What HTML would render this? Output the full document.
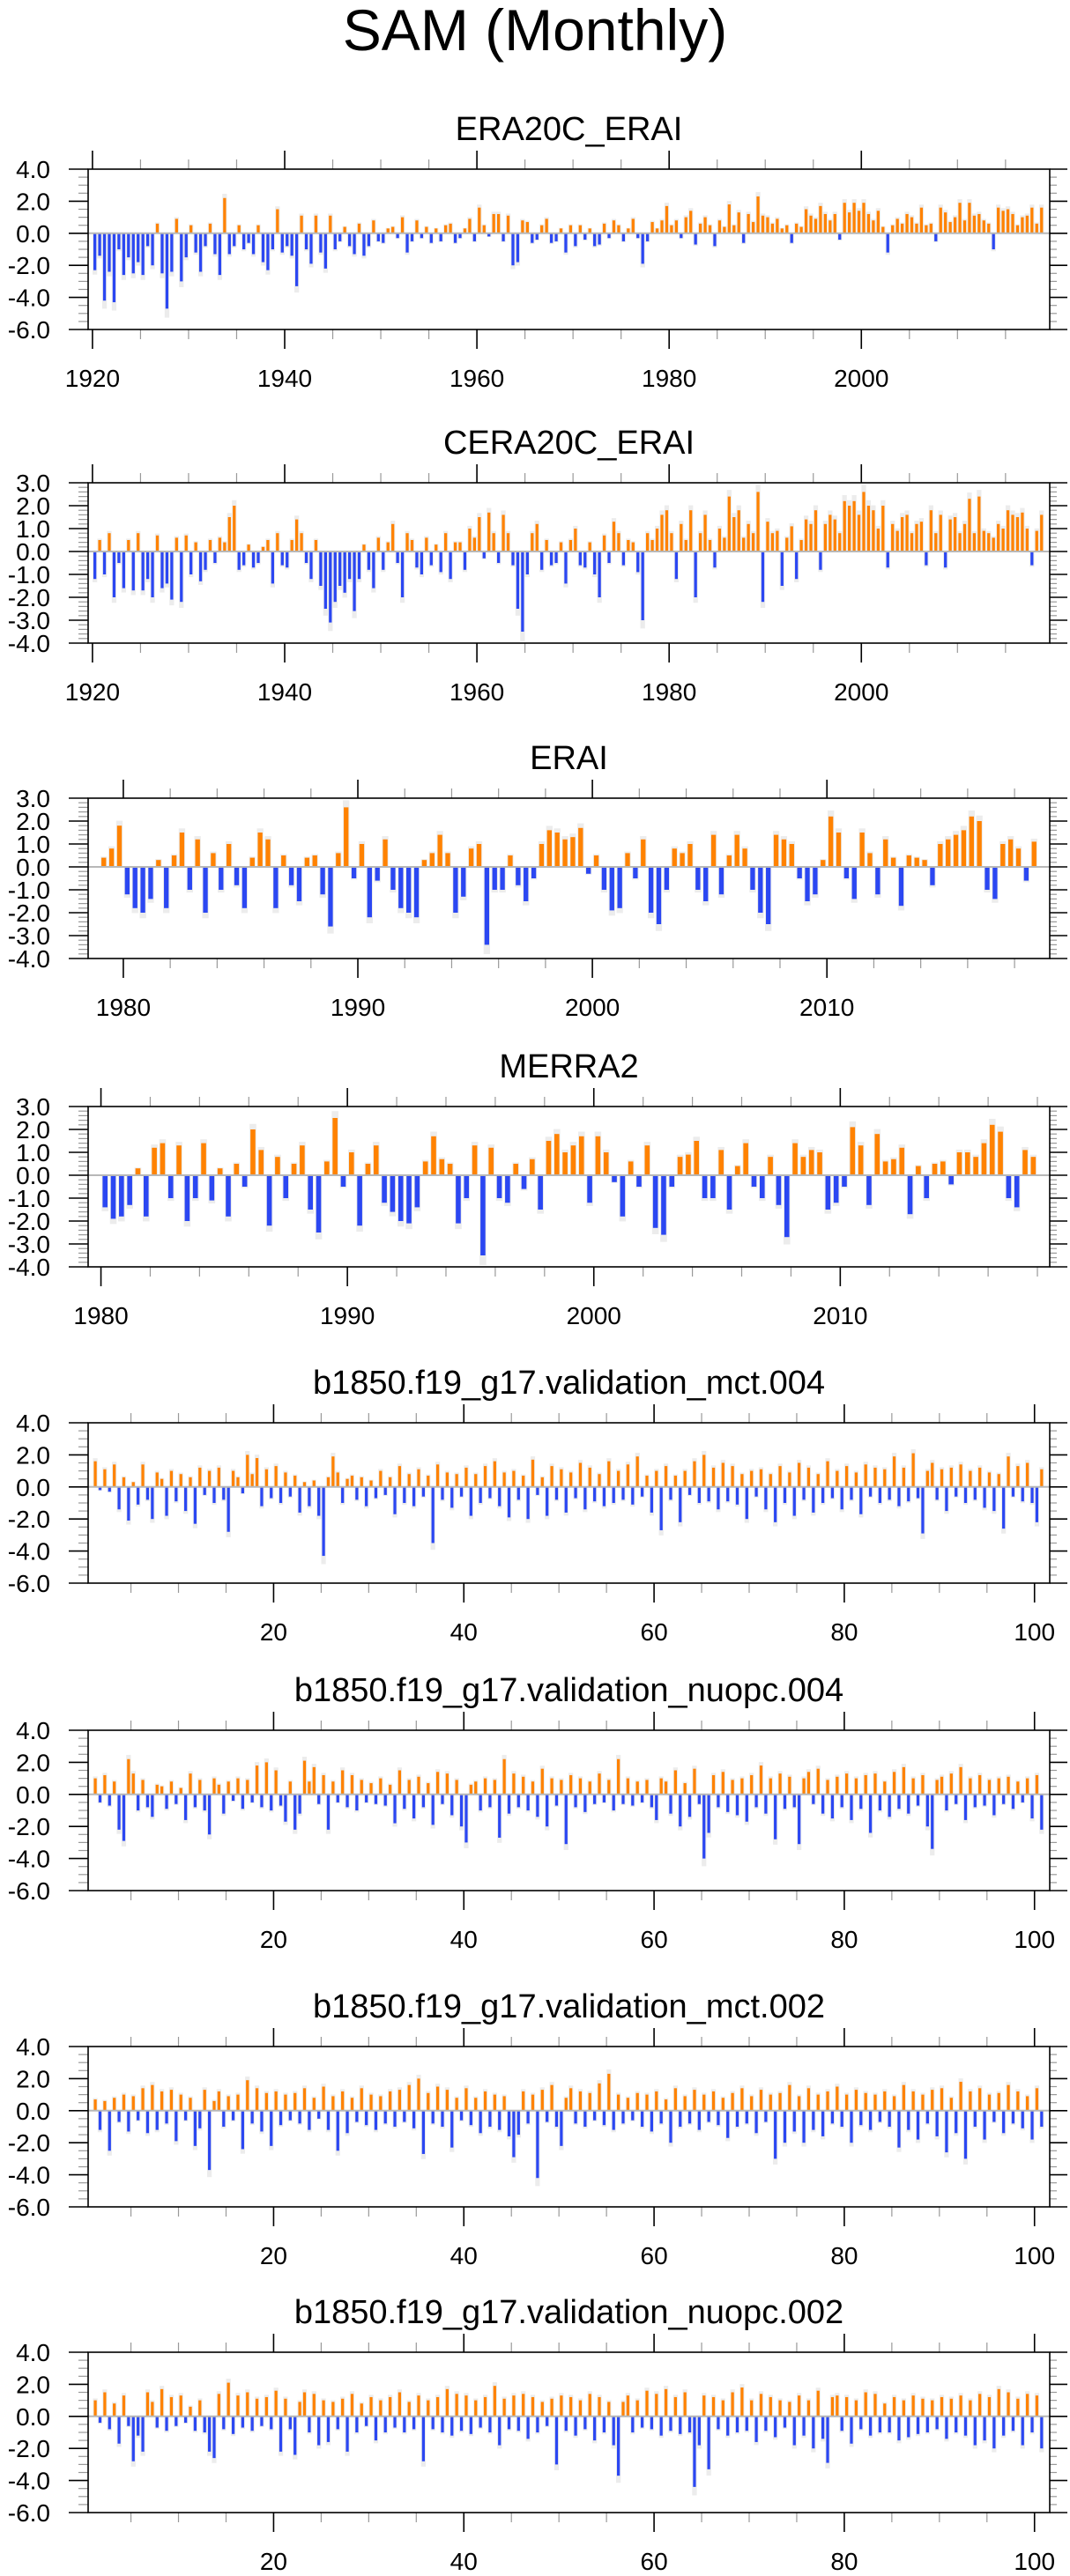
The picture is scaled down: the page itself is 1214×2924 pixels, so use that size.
<!DOCTYPE html>
<html><head><meta charset="utf-8"><style>
html,body{margin:0;padding:0;background:#fff;}
svg{display:block;font-family:"Liberation Sans",sans-serif;}
</style></head><body>
<svg id="chart" width="1214" height="2924" viewBox="0 0 1214 2924" xmlns="http://www.w3.org/2000/svg">
<rect x="0" y="0" width="1214" height="2924" fill="#fff"/>
<text x="607" y="57" font-size="66" text-anchor="middle" fill="#000">SAM (Monthly)</text>
</svg>
<script>
// ---- data arrays ----
const titles = ["ERA20C_ERAI","CERA20C_ERAI","ERAI","MERRA2","b1850.f19_g17.validation_mct.004","b1850.f19_g17.validation_nuopc.004","b1850.f19_g17.validation_mct.002","b1850.f19_g17.validation_nuopc.002"];
const dataStart = [1920,1920,1979,1980,1,1,1,1];
const dataStep = [0.5,0.5,1/3,1/3,0.5,0.5,0.5,0.5];
const xMinVals = [1919.55,1919.55,1978.5,1979.48,0.5,0.5,0.5,0.5];
const xMaxVals = [2019.6,2019.6,2019.5,2018.5,101.6,101.6,101.6,101.6];
const yMinVals = [-6,-4,-4,-4,-6,-6,-6,-6];
const yMaxVals = [4,3,3,3,4,4,4,4];
const yMajorStep = [2,1,1,1,2,2,2,2];
const yMinorStep = [0.5,0.2,0.2,0.2,0.5,0.5,0.5,0.5];
const xMajorStep = [20,20,10,10,20,20,20,20];
const xMinorStep = [5,5,2,2,5,5,5,5];
const xTickLabels = [
 ["1920","1940","1960","1980","2000"],
 ["1920","1940","1960","1980","2000"],
 ["1980","1990","2000","2010"],
 ["1980","1990","2000","2010"],
 ["20","40","60","80","100"],["20","40","60","80","100"],["20","40","60","80","100"],["20","40","60","80","100"]];

const era20c = [-2.3,-1.4,-4.2,-2.4,-4.3,-1.0,-2.6,-1.5,-2.5,-1.8,-2.6,-0.8,-2.0,0.6,-2.5,-4.7,-2.4,0.9,-3.0,-1.5,
0.5,-1.2,-2.4,-0.8,0.6,-1.3,-2.6,2.2,-1.3,-0.8,0.5,-1.0,-0.6,-1.3,0.5,-1.8,-2.3,-1.0,1.5,-1.2,
-0.8,-1.4,-3.3,1.1,-1.0,-1.9,1.1,-1.2,-2.2,1.1,-1.0,-0.5,0.4,-0.8,-1.3,0.6,-1.4,-0.8,0.8,-0.5,
-0.6,0.3,0.4,-0.3,1.0,-1.2,-0.5,0.8,-0.3,0.4,-0.6,0.3,-0.5,0.5,0.6,-0.6,-0.3,0.3,0.9,-0.5,
1.6,0.5,-0.2,1.2,1.2,-0.5,1.1,-2.0,-1.8,0.8,0.7,-0.6,-0.4,0.5,0.9,-0.6,-0.5,0.3,-1.2,0.5,
-0.8,0.5,-0.4,0.3,-0.8,-0.7,0.6,-0.3,0.8,0.5,-0.5,0.3,0.9,-0.3,-1.9,-0.5,0.7,0.3,0.8,1.7,
0.5,0.8,-0.3,1.0,1.4,-0.7,0.6,1.0,0.5,-0.8,0.8,0.4,1.8,0.5,1.3,-0.6,1.2,0.7,2.3,1.1,
1.0,0.6,0.9,0.3,0.5,-0.6,0.6,0.4,1.5,1.1,0.9,1.7,1.2,0.8,1.2,-0.4,1.9,1.3,1.9,1.4,
1.9,1.2,0.8,1.4,0.4,-1.2,0.5,0.9,0.6,1.2,1.0,0.6,1.6,0.5,0.6,-0.5,1.6,1.3,0.7,1.0,
1.9,0.8,1.9,1.1,1.2,0.8,0.6,-1.0,1.6,1.4,1.5,1.2,0.5,1.0,1.1,1.6,0.6,1.6];
const cera20c = [-1.2,0.5,-1.0,0.8,-2.0,-0.5,-1.6,0.5,-1.7,0.8,-1.7,-1.2,-2.0,0.7,-1.6,-1.4,-2.1,0.6,-2.2,0.7,
-1.0,0.4,-1.3,-0.8,0.5,-0.5,0.6,0.4,1.5,2.0,-0.8,-0.6,0.3,-0.7,-0.5,0.2,0.5,-1.4,0.8,-0.6,
-0.7,0.5,1.4,0.8,-0.5,-1.2,0.5,-1.5,-2.5,-3.1,-2.2,-1.5,-1.8,-1.2,-2.6,-1.2,0.3,-0.8,-1.6,0.6,
-0.8,0.4,1.2,-0.5,-2.0,0.8,0.5,-0.7,-1.0,0.6,-0.6,0.3,-0.9,0.8,-1.2,0.4,0.4,-0.8,1.0,0.6,
1.5,-0.3,1.7,0.8,-0.5,1.6,0.8,-0.6,-2.5,-3.5,-1.0,0.8,1.2,-0.8,0.5,-0.6,-0.5,0.4,-1.4,0.5,
1.0,-0.6,-0.7,0.4,-1.0,-2.0,0.7,-0.5,1.3,0.8,-0.6,0.5,0.4,-0.9,-3.0,0.8,0.5,1.0,1.6,1.8,
0.8,-1.2,1.2,0.5,1.8,-2.0,0.8,1.6,0.5,-0.7,1.0,0.6,2.4,1.5,1.8,0.6,1.2,0.8,2.6,-2.2,
1.3,0.8,0.9,-1.5,0.6,1.1,-1.2,0.5,1.4,1.2,1.8,-0.8,1.2,1.6,1.4,0.8,2.2,2.0,2.2,1.6,
2.6,2.0,1.8,1.0,2.0,-0.7,1.2,0.9,1.5,1.6,0.8,1.2,1.3,-0.6,1.8,0.8,1.6,-0.7,1.4,1.5,
0.8,1.2,2.3,0.8,2.4,0.9,0.8,0.6,1.2,1.0,1.8,1.6,1.5,1.7,1.0,-0.6,0.9,1.6];
const erai = [0.4,0.8,1.8,-1.2,-1.8,-2.0,-1.4,0.3,-1.8,0.5,1.5,-1.0,1.2,-2.0,0.6,-1.0,1.0,-0.8,-1.8,0.4,1.5,
1.2,-1.8,0.5,-0.8,-1.5,0.4,0.5,-1.2,-2.6,0.6,2.6,-0.5,1.0,-2.2,-0.6,1.2,-1.0,-1.8,-2.0,-2.2,0.3,
0.6,1.4,0.6,-2.0,-1.3,0.8,1.0,-3.4,-1.0,-1.0,0.5,-0.8,-1.5,-0.5,1.0,1.6,1.5,1.2,1.3,1.7,-0.3,
0.5,-1.0,-1.9,-1.8,0.6,-0.5,1.2,-2.0,-2.5,-1.0,0.8,0.6,1.0,-1.0,-1.5,1.4,-1.2,0.5,1.4,0.8,-1.0,
-2.0,-2.5,1.4,1.2,1.0,-0.5,-1.5,-1.2,0.3,2.2,1.5,-0.5,-1.4,1.5,0.6,-1.2,1.2,0.4,-1.7,0.5,0.4,
0.3,-0.8,1.0,1.2,1.4,1.6,2.2,2.0,-1.0,-1.4,1.0,1.2,0.8,-0.6,1.1];
const merra2 = [-1.4,-1.9,-1.8,-1.3,0.3,-1.8,1.2,1.4,-1.0,1.3,-2.0,-1.0,1.4,-1.1,0.3,-1.8,0.5,-0.5,2.0,1.1,-2.2,
0.8,-1.0,0.5,1.3,-1.5,-2.5,0.6,2.5,-0.5,1.0,-2.2,0.5,1.3,-1.2,-1.6,-2.0,-2.1,-1.4,0.6,1.7,0.7,
0.5,-2.1,-1.0,1.3,-3.5,1.2,-1.0,-1.2,0.5,-0.6,0.7,-1.5,1.5,1.8,1.0,1.3,1.7,-1.2,1.7,1.0,-0.3,
-1.8,0.6,-0.5,1.3,-2.3,-2.6,-0.5,0.8,0.9,1.5,-1.0,-1.0,1.1,-1.5,0.4,1.4,-0.5,-1.0,0.8,-1.3,-2.7,
1.4,0.8,1.1,1.0,-1.5,-1.2,-0.5,2.1,1.3,-1.3,1.8,0.6,0.7,1.2,-1.7,0.4,-1.0,0.5,0.6,-0.4,1.0,
1.0,0.8,1.4,2.2,1.9,-1.0,-1.4,1.1,0.8];
const mct004 = [1.6,-0.2,1.1,-0.3,1.4,-1.4,0.6,-2.1,0.3,-1.1,1.4,-0.8,-2.0,0.9,0.5,-1.8,1.0,-0.9,0.8,-1.5,
0.6,-2.3,1.2,-0.5,1.0,-1.0,1.2,-0.8,-2.8,1.0,0.6,-0.4,2.0,0.8,1.8,-1.2,1.1,-0.7,1.3,-1.0,
0.9,-0.6,0.7,-1.6,0.3,-1.2,0.4,-1.8,-4.3,0.6,1.9,0.9,-1.0,0.5,0.7,-0.8,0.6,-1.2,0.4,-0.7,
1.0,-0.5,0.6,-1.7,1.3,-1.0,0.8,-1.2,1.1,-0.6,0.7,-3.5,1.4,-0.8,0.9,-1.3,0.8,-0.6,1.2,-1.8,
0.8,-1.0,1.3,-0.7,1.6,-1.2,0.9,-1.9,1.0,-0.8,0.7,-2.0,1.7,-0.5,0.6,-1.8,1.3,-0.8,1.1,-1.6,
0.9,-0.7,1.5,-1.4,1.2,-0.9,0.8,-1.2,1.6,-1.0,1.0,-0.8,1.4,-1.1,1.9,-0.6,0.7,-1.6,1.0,-2.7,
1.3,-0.8,0.7,-2.2,1.0,-0.5,1.6,-1.0,2.0,-0.9,1.2,-1.4,1.5,-0.9,1.3,-1.1,0.8,-2.0,1.0,-0.6,
1.1,-1.4,0.8,-2.2,1.3,-1.0,0.9,-1.8,1.5,-0.8,1.2,-1.6,0.8,-1.0,1.6,-0.7,1.0,-1.4,1.3,-0.8,
0.9,-1.7,1.4,-0.6,1.2,-1.0,1.1,-0.8,1.9,-1.2,1.2,-0.9,2.1,-0.7,-2.9,1.0,1.5,-0.8,1.1,-1.5,
1.2,-0.6,1.4,-1.0,1.0,-0.8,1.2,-1.3,0.9,-1.5,0.8,-2.6,1.9,-0.6,1.3,-0.9,1.5,-1.0,-2.2,1.1];
const nuopc004 = [1.0,-0.5,1.2,-0.7,0.8,-2.2,-2.9,2.2,1.3,-1.0,0.9,-0.8,-1.4,0.6,0.5,-0.9,0.8,-0.6,0.4,-1.6,
1.3,-0.8,0.9,-1.0,-2.5,1.0,0.6,-1.2,0.8,-0.4,1.0,-0.9,0.9,-0.5,1.8,-0.8,2.0,-1.0,1.5,-0.7,
-1.7,0.8,-2.2,-1.2,2.1,0.8,1.7,-0.6,1.2,-2.2,0.8,-0.5,1.5,-0.8,1.2,-1.0,0.9,-0.5,0.7,-0.6,
1.0,-0.7,0.6,-1.8,1.5,-0.9,0.9,-1.5,1.1,-0.8,0.7,-1.9,1.4,-0.6,1.3,-1.3,0.9,-2.0,-3.0,0.6,
0.8,-1.0,1.0,-0.8,0.9,-2.7,2.2,-1.2,1.3,-0.8,1.1,-1.0,0.8,-1.4,1.6,-2.0,1.0,-0.7,0.9,-3.1,
1.2,-0.8,1.0,-1.1,0.8,-0.6,1.3,-0.5,0.9,-1.0,2.2,-0.6,1.0,-0.7,0.8,-0.5,0.9,-0.8,-1.6,1.0,
0.8,-1.2,1.5,-2.0,0.7,-1.4,1.6,-0.6,-4.0,-2.4,1.2,-0.8,1.4,-1.1,0.9,-1.3,1.0,-1.7,1.2,-0.8,
1.8,-1.2,1.0,-2.8,1.3,-0.9,1.1,-0.8,-3.1,1.0,1.4,-0.6,1.6,-1.2,0.9,-1.5,1.1,-0.8,1.3,-1.6,
1.0,-0.9,1.2,-2.4,1.3,-1.0,0.8,-1.4,1.4,-0.9,1.7,-1.2,1.0,-0.7,1.2,-2.0,-3.4,0.9,1.1,-1.0,
1.3,-0.6,1.7,-1.6,1.0,-0.8,1.2,-0.7,0.9,-1.3,1.0,-0.6,1.1,-0.9,0.8,-0.5,1.0,-1.5,1.2,-2.2];
const mct002 = [0.7,-1.2,0.6,-2.5,0.8,-0.7,1.0,-1.3,0.9,-0.6,1.4,-1.4,1.6,-1.2,1.2,-0.8,1.3,-1.9,1.0,-0.6,
0.8,-2.2,-1.1,1.3,-3.7,0.6,1.2,-1.0,0.9,-0.6,1.0,-2.4,1.9,-0.8,1.4,-1.3,1.1,-2.2,1.2,-0.9,
1.0,-0.6,1.1,-0.8,1.4,-1.2,0.8,-0.5,1.5,-1.2,0.9,-2.5,1.2,-1.4,0.8,-0.7,1.4,-0.9,1.0,-1.2,
0.9,-0.8,1.2,-1.0,1.3,-0.7,1.6,-1.1,2.0,-2.7,1.1,-0.8,1.5,-1.0,1.3,-2.3,0.8,-0.6,1.4,-0.9,
0.8,-1.4,1.2,-1.0,1.0,-1.2,0.9,-1.6,-2.9,-1.5,1.2,-0.8,1.0,-4.2,1.3,-0.7,1.6,-1.0,-2.2,0.8,
1.4,-0.8,1.2,-1.0,1.1,-0.6,1.7,-0.9,2.3,-1.2,1.0,-0.8,0.8,-0.6,1.1,-1.0,1.0,-1.3,1.2,-0.8,
0.7,-2.0,1.4,-1.0,0.9,-0.8,1.3,-1.2,1.0,-0.7,1.2,-0.9,0.8,-1.7,1.1,-1.0,1.4,-0.8,0.9,-1.4,
1.3,-0.7,1.0,-3.0,1.1,-2.0,1.6,-1.3,0.9,-2.0,1.4,-1.2,1.0,-1.6,1.2,-0.8,1.5,-1.0,1.0,-2.0,
1.3,-0.9,1.1,-1.2,1.0,-0.7,1.2,-1.0,0.9,-2.3,1.6,-1.2,1.2,-1.8,1.0,-0.8,1.3,-1.6,1.4,-2.6,
0.8,-1.4,1.8,-3.0,1.2,-1.0,1.4,-1.8,1.0,-0.7,1.1,-1.4,1.6,-0.8,1.2,-1.1,0.9,-1.8,1.4,-1.0];
const nuopc002 = [1.0,-0.4,1.5,-0.8,0.8,-1.7,1.3,-0.6,-2.8,-1.2,-2.2,1.5,0.9,-0.7,1.7,-0.9,1.2,-0.6,1.3,-0.4,
0.6,-0.9,1.0,-1.0,-2.2,-2.6,1.4,-0.8,2.1,-1.1,1.3,-0.7,1.5,-0.9,1.1,-0.6,1.2,-0.8,1.6,-2.2,
1.1,-0.8,-2.4,0.9,1.5,-1.0,1.4,-1.8,1.0,-1.6,0.9,-0.8,1.1,-2.2,1.4,-1.0,0.8,-0.6,1.2,-1.5,
1.0,-1.0,1.2,-0.7,1.5,-1.0,0.9,-0.8,1.3,-2.8,1.0,-0.8,1.2,-1.0,1.7,-1.2,1.4,-0.9,1.3,-1.1,
1.0,-0.7,1.2,-1.0,1.9,-1.8,1.1,-0.8,1.3,-0.9,1.4,-1.4,1.2,-1.0,0.9,-0.6,1.1,-3.0,1.3,-0.9,
1.2,-1.2,1.0,-0.8,1.4,-1.5,1.2,-1.0,0.9,-1.8,-3.7,0.9,1.3,-1.0,1.0,-0.7,1.6,-0.8,1.4,-1.2,
1.7,-0.9,1.2,-1.1,1.5,-1.0,-4.4,-1.8,1.3,-3.3,1.2,-0.8,1.0,-1.2,1.5,-1.0,1.8,-0.9,1.0,-1.6,
1.4,-0.9,1.2,-1.3,1.0,-0.7,0.9,-1.8,1.3,-1.2,1.0,-2.0,1.6,-1.4,-2.9,1.2,1.3,-0.9,1.2,-1.7,
1.0,-0.8,1.5,-1.2,1.4,-1.0,0.8,-1.0,1.2,-1.5,1.0,-1.3,1.3,-1.1,1.1,-1.0,1.0,-0.8,1.2,-1.4,
1.1,-1.0,1.3,-1.2,1.0,-1.8,1.4,-1.5,1.2,-2.0,1.7,-1.2,1.5,-0.9,1.1,-1.8,1.4,-1.0,1.3,-2.0];
const seriesValues = [era20c,cera20c,erai,merra2,mct004,nuopc004,mct002,nuopc002];

// ---- layout (not data) ----
const panelTops = [192,548,906,1256,1615,1964,2323,2670];
const BOX_L = 100, BOX_R = 1191, BOX_H = 182;
const BAR_FRAC = 0.6;
const NS = "http://www.w3.org/2000/svg";
const svg = document.getElementById('chart');
function mk(tag, attrs, parent){
  const e = document.createElementNS(NS, tag);
  for (const k in attrs) e.setAttribute(k, attrs[k]);
  (parent||svg).appendChild(e);
  return e;
}
function fmt(v){ return (Math.abs(v)<1e-9?0:v).toFixed(1); }

for (let p=0; p<8; p++){
  const top = panelTops[p], bot = top+BOX_H;
  const x0 = xMinVals[p], x1 = xMaxVals[p], y0 = yMinVals[p], y1 = yMaxVals[p];
  const xs = v => BOX_L + (v-x0)/(x1-x0)*(BOX_R-BOX_L);
  const ys = v => bot - (v-y0)/(y1-y0)*BOX_H;
  const g = mk('g', {});
  
  

  const t = mk('text', {x:(BOX_L+BOX_R)/2, y:top-33, 'font-size':38, 'text-anchor':'middle', fill:'#000'}, g);
  t.textContent = titles[p];
  
  

  // bars
  const bg = mk('g', {}, g);
  
  
  const vals = seriesValues[p], st = dataStep[p];
  for (let i=0;i<vals.length;i++){
    const v = vals[i];
    const xa = xs(dataStart[p] + i*st), xb = xs(dataStart[p] + (i+1)*st);
    const w = (xb-xa)*BAR_FRAC;
    const xc = xa + ((xb-xa)-w)/2;
    const ya = ys(Math.max(v,0)), yb = ys(Math.min(v,0));
    const gh = mk('rect', {x:(xc-1).toFixed(2), y:(ys(Math.max(v*1.12,0))).toFixed(2), width:(w+2).toFixed(2), height:Math.max(0.5,ys(Math.min(v*1.12,0))-ys(Math.max(v*1.12,0))).toFixed(2), fill:'#ececec'}, bg);
    
    
    const r = mk('rect', {x:xc.toFixed(2), y:ya.toFixed(2), width:Math.max(0.8,w).toFixed(2), height:Math.max(0.5,yb-ya).toFixed(2), fill: v>=0 ? '#ff8200' : '#2b47f2'}, bg);
    
    
  }
  // zero line
  const zl = mk('line', {x1:BOX_L, x2:BOX_R, y1:ys(0), y2:ys(0), stroke:'#b8b8b8', 'stroke-width':2}, g);
  
  

  // y ticks
  const nMin = Math.round((y1-y0)/yMinorStep[p]);
  for (let k=0;k<=nMin;k++){
    const v = y0 + k*yMinorStep[p];
    const major = Math.abs(v/yMajorStep[p] - Math.round(v/yMajorStep[p])) < 1e-6;
    const y = ys(v);
    mk('line', {x1:BOX_L-(major?22:11), x2:BOX_L, y1:y, y2:y, stroke: major?'#000':'#999', 'stroke-width': major?1.6:1.2}, g);
    mk('line', {x1:BOX_R, x2:BOX_R+(major?20:8), y1:y, y2:y, stroke: major?'#000':'#999', 'stroke-width': major?1.6:1.2}, g);
    if (major){
      const lt = mk('text', {x:57, y:y+10, 'font-size':28, 'text-anchor':'end', fill:'#000'}, g);
      lt.textContent = fmt(v);
      
      
    }
  }
  // x ticks
  const mstep = xMinorStep[p];
  let li = 0;
  for (let v = Math.ceil(x0/mstep)*mstep; v <= x1; v += mstep){
    const major = Math.abs(v/xMajorStep[p] - Math.round(v/xMajorStep[p])) < 1e-6;
    const x = xs(v);
    mk('line', {x1:x, x2:x, y1:top-(major?21:11), y2:top, stroke: major?'#000':'#999', 'stroke-width': major?1.6:1.2}, g);
    mk('line', {x1:x, x2:x, y1:bot, y2:bot+(major?22:11), stroke: major?'#000':'#999', 'stroke-width': major?1.6:1.2}, g);
    if (major && li < xTickLabels[p].length){
      const xt = mk('text', {x:x, y:bot+65, 'font-size':28, 'text-anchor':'middle', fill:'#000'}, g);
      xt.textContent = xTickLabels[p][li++];
      
      
    }
  }
  // box
  const bx = mk('rect', {x:BOX_L, y:top, width:BOX_R-BOX_L, height:BOX_H, fill:'none', stroke:'#000', 'stroke-width':1.6}, g);
  
  
}
</script>
</body></html>
